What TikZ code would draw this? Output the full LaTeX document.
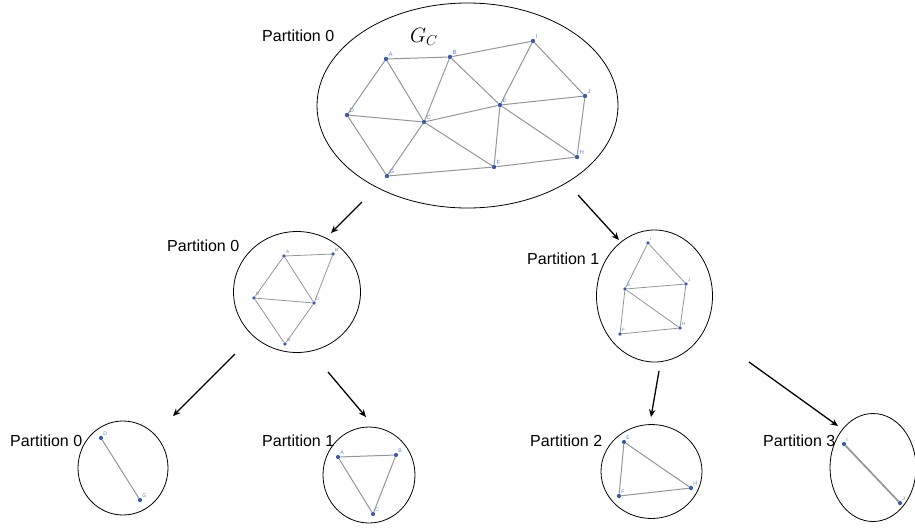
\documentclass[tikz,border=0pt]{standalone}
\usepackage{fontspec}
\setmainfont{Liberation Sans}
\usetikzlibrary{shapes.geometric,arrows.meta}
\definecolor{dotblue}{HTML}{3A5CAC}
\definecolor{lblblue}{HTML}{5F84D8}
\definecolor{edgegray}{HTML}{959595}
\tikzset{
  vtx/.style={circle,fill=dotblue,inner sep=0pt,minimum size=4.4pt},
  svtx/.style={circle,fill=dotblue,inner sep=0pt,minimum size=3.6pt},
  bvtx/.style={circle,fill=dotblue,inner sep=0pt,minimum size=4.2pt},
  lbl/.style={text=lblblue,font=\fontsize{6}{7}\selectfont,inner sep=0.6pt},
  slbl/.style={text=lblblue,font=\fontsize{4.6}{5}\selectfont,inner sep=0.5pt},
  blbl/.style={text=lblblue,font=\fontsize{5.2}{6}\selectfont,inner sep=0.5pt},
  edge/.style={draw=edgegray,line width=1pt},
  part/.style={draw=black,line width=0.8pt,ellipse,inner sep=0pt},
  ptitle/.style={font=\fontsize{16}{19}\selectfont,anchor=base west,inner sep=0pt},
  split/.style={-{Stealth[length=7.5pt,width=6.5pt]},line width=1.3pt,black},
}
\begin{document}
\begin{tikzpicture}[x=1pt,y=-1pt]
\useasboundingbox (0,0) rectangle (915,531);

% ---------- the whole graph G_C ----------
\node[part,minimum width=301pt,minimum height=205pt] (g) at (467.5,105.5) {};
\node[ptitle] (t0) at (262,41) {Partition 0};
\node[font=\fontsize{21}{25}\selectfont,inner sep=0pt] (gc) at (424,37) {$G_C$};

\node[vtx,label={[lbl]above right:A}] (A) at (386,59) {};
\node[vtx,label={[lbl]above right:B}] (B) at (450,57) {};
\node[vtx,label={[lbl]above right:I}] (I) at (533,41) {};
\node[vtx,label={[lbl]above right:J}] (J) at (585,96) {};
\node[vtx,label={[lbl]above right:E}] (E) at (500,105) {};
\node[vtx,label={[lbl]above right:C}] (C) at (424,122) {};
\node[vtx,label={[lbl]above right:D}] (D) at (347,115) {};
\node[vtx,label={[lbl]above right:G}] (G) at (387,176) {};
\node[vtx,label={[lbl]above right:F}] (F) at (494,167) {};
\node[vtx,label={[lbl]above right:H}] (H) at (577,157) {};

\foreach \u/\v in {A/B,B/I,A/D,A/C,B/C,B/E,I/E,I/J,E/J,C/E,D/C,D/G,G/C,C/F,E/F,E/H,J/H,G/F,F/H}
  \draw[edge] (\u) -- (\v);

% ---------- first split: partitions 0 and 1 ----------
\node[part,minimum width=127pt,minimum height=121pt] (p0) at (297,292) {};
\node[ptitle] (t00) at (167,251) {Partition 0};
\node[svtx,label={[slbl]above right:A}] (A1) at (284,256) {};
\node[svtx,label={[slbl]above right:B}] (B1) at (333,254) {};
\node[svtx,label={[slbl]above right:D}] (D1) at (254,298) {};
\node[svtx,label={[slbl]above right:C}] (C1) at (314,303) {};
\node[svtx,label={[slbl]above right:G}] (G1) at (285,344) {};
\foreach \u/\v in {A1/B1,A1/D1,A1/C1,B1/C1,D1/C1,D1/G1,G1/C1}
  \draw[edge,line width=0.8pt] (\u) -- (\v);

\node[part,minimum width=116pt,minimum height=132pt] (p1) at (654.5,296) {};
\node[ptitle] (t01) at (527,264) {Partition 1};
\node[svtx,label={[slbl]above right:I}] (I1) at (648,243) {};
\node[svtx,label={[slbl]above right:J}] (J1) at (686,284) {};
\node[svtx,label={[slbl]above right:E}] (E1) at (625,289) {};
\node[svtx,label={[slbl]above right:H}] (H1) at (680,328) {};
\node[svtx,label={[slbl]above right:F}] (F1) at (620,334) {};
\foreach \u/\v in {I1/E1,I1/J1,E1/J1,E1/H1,J1/H1,E1/F1,F1/H1}
  \draw[edge,line width=0.8pt] (\u) -- (\v);

% ---------- second split: four partitions ----------
\node[part,minimum width=90pt,minimum height=94pt] (q0) at (123,468) {};
\node[ptitle] (t10) at (10,446) {Partition 0};
\node[bvtx,label={[blbl]above right:D}] (D2) at (101,438) {};
\node[bvtx,label={[blbl]above right:G}] (G2) at (140,500) {};
\draw[edge] (D2) -- (G2);

\node[part,minimum width=92pt,minimum height=96pt] (q1) at (369,475) {};
\node[ptitle] (t11) at (262,446) {Partition 1};
\node[bvtx,label={[blbl]above right:A}] (A2) at (338,457) {};
\node[bvtx,label={[blbl]above right:B}] (B2) at (396,455) {};
\node[bvtx,label={[blbl]above right:C}] (C2) at (373,514) {};
\foreach \u/\v in {A2/B2,A2/C2,B2/C2}
  \draw[edge] (\u) -- (\v);

\node[part,minimum width=101pt,minimum height=94pt] (q2) at (651.5,471.5) {};
\node[ptitle] (t12) at (530,446) {Partition 2};
\node[bvtx,label={[blbl]above right:E}] (E2) at (624,442) {};
\node[bvtx,label={[blbl]above right:H}] (H2) at (691,488) {};
\node[bvtx,label={[blbl]above right:F}] (F2) at (619,496) {};
\foreach \u/\v in {E2/H2,E2/F2,F2/H2}
  \draw[edge] (\u) -- (\v);

\node[part,minimum width=86pt,minimum height=108pt] (q3) at (873,467.5) {};
\node[ptitle] (t13) at (763,446) {Partition 3};
\node[bvtx,label={[blbl]above right:I}] (I2) at (844,444) {};
\node[bvtx,label={[blbl]above right:J}] (J2) at (900,503) {};
\draw[edge,line width=1.7pt] (I2) -- (J2);

% ---------- split arrows ----------
\coordinate (a1s) at (362,202); \coordinate (a1e) at (331,233);
\coordinate (a2s) at (578,195); \coordinate (a2e) at (619,240);
\coordinate (a3s) at (235,354); \coordinate (a3e) at (173,416);
\coordinate (a4s) at (328,372); \coordinate (a4e) at (366,417);
\coordinate (a5s) at (659,371); \coordinate (a5e) at (651,417);
\coordinate (a6s) at (749,362); \coordinate (a6e) at (838,426);
\foreach \k in {1,...,6}
  \draw[split] (a\k s) -- (a\k e);
\end{tikzpicture}
\end{document}
